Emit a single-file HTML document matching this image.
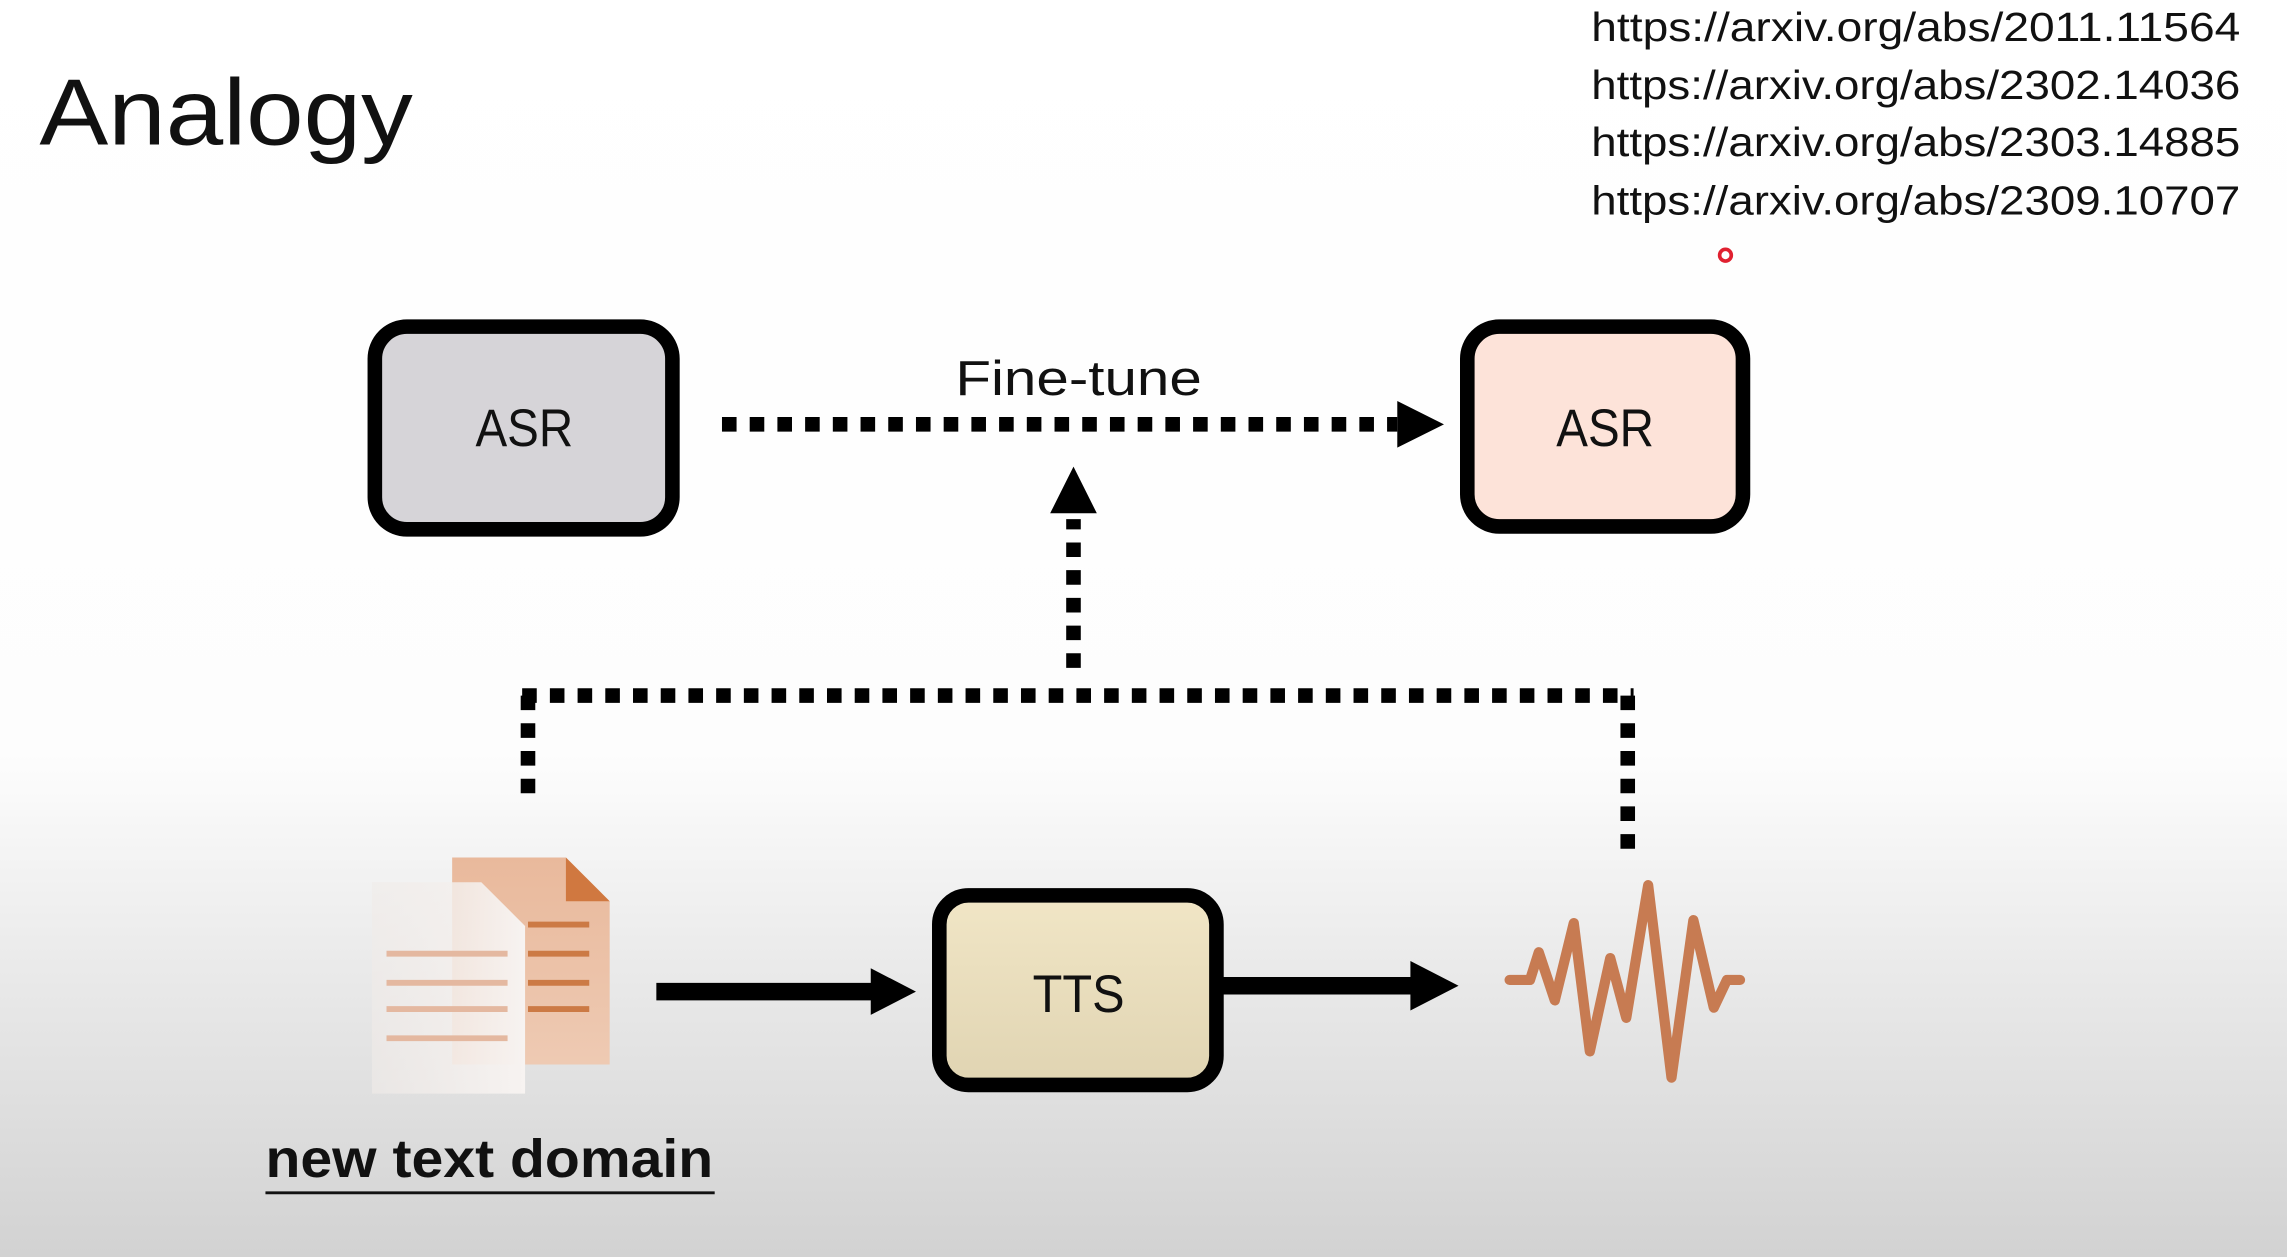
<!DOCTYPE html>
<html><head><meta charset="utf-8"><style>
html,body{margin:0;padding:0;width:2287px;height:1257px;overflow:hidden;background:#fff}
svg{display:block}
</style></head><body>
<svg width="2287" height="1257" viewBox="0 0 1568 862" preserveAspectRatio="none" xmlns="http://www.w3.org/2000/svg" font-family="Liberation Sans, DejaVu Sans, sans-serif">
<defs>
<linearGradient id="bg" x1="0" y1="0" x2="0" y2="1">
<stop offset="0" stop-color="#ffffff"/><stop offset="0.6" stop-color="#fdfdfd"/><stop offset="0.75" stop-color="#ececec"/><stop offset="1" stop-color="#d2d2d2"/>
</linearGradient>
<linearGradient id="tts" x1="0" y1="0" x2="0" y2="1"><stop offset="0" stop-color="#f1e6c6"/><stop offset="1" stop-color="#e0d4b2"/></linearGradient>
<linearGradient id="doc1" x1="0" y1="0" x2="0" y2="1"><stop offset="0" stop-color="#e9b99c"/><stop offset="1" stop-color="#eecab3"/></linearGradient>
<linearGradient id="doc2" x1="0" y1="0" x2="1" y2="0"><stop offset="0" stop-color="#f0ebe8" stop-opacity="0.6"/><stop offset="1" stop-color="#f7f3f1"/></linearGradient>
</defs>
<rect width="1568" height="862" fill="url(#bg)"/>
<text x="27" y="99" font-size="64" fill="#111" textLength="256" lengthAdjust="spacingAndGlyphs">Analogy</text>
<g font-size="28" fill="#111">
<text x="1091" y="28" textLength="445" lengthAdjust="spacingAndGlyphs">https://arxiv.org/abs/2011.11564</text>
<text x="1091" y="68" textLength="445" lengthAdjust="spacingAndGlyphs">https://arxiv.org/abs/2302.14036</text>
<text x="1091" y="107" textLength="445" lengthAdjust="spacingAndGlyphs">https://arxiv.org/abs/2303.14885</text>
<text x="1091" y="147" textLength="445" lengthAdjust="spacingAndGlyphs">https://arxiv.org/abs/2309.10707</text>
</g>
<circle cx="1183" cy="175" r="4" fill="none" stroke="#e02030" stroke-width="2.5"/>
<rect x="257" y="224" width="204" height="139" rx="22" fill="#d6d4d8" stroke="#000" stroke-width="10"/>
<text x="326" y="306" font-size="36" fill="#111" textLength="67" lengthAdjust="spacingAndGlyphs">ASR</text>
<rect x="1006" y="224" width="189" height="137" rx="22" fill="#fde3d9" stroke="#000" stroke-width="10"/>
<text x="1067" y="306" font-size="36" fill="#111" textLength="67" lengthAdjust="spacingAndGlyphs">ASR</text>
<text x="655" y="271" font-size="34" fill="#111" textLength="169" lengthAdjust="spacingAndGlyphs">Fine-tune</text>
<g stroke="#000" stroke-width="10" stroke-dasharray="10 9" fill="none">
<line x1="495" y1="291" x2="958" y2="291"/>
<line x1="736" y1="458" x2="736" y2="356"/>
<line x1="358" y1="477" x2="1120" y2="477"/>
<line x1="362" y1="477" x2="362" y2="553"/>
<line x1="1116" y1="477" x2="1116" y2="588"/>
</g>
<polygon points="958,275 990,291 958,307" fill="#000"/>
<polygon points="720,352 736,320 752,352" fill="#000"/>
<rect x="644" y="614" width="190" height="130" rx="20" fill="url(#tts)" stroke="#000" stroke-width="10"/>
<text x="708" y="694" font-size="36" fill="#111" textLength="63" lengthAdjust="spacingAndGlyphs">TTS</text>
<line x1="450" y1="680" x2="600" y2="680" stroke="#000" stroke-width="12"/>
<polygon points="597,664 628,680 597,696" fill="#000"/>
<line x1="836" y1="676" x2="970" y2="676" stroke="#000" stroke-width="12"/>
<polygon points="967,659 1000,676 967,693" fill="#000"/>
<polygon points="310,588 388,588 418,618 418,730 310,730" fill="url(#doc1)"/>
<polygon points="388,588 418,618 388,618" fill="#d07840"/>
<g stroke="#cc7a45" stroke-width="4"><line x1="362" y1="634" x2="404" y2="634"/><line x1="362" y1="654" x2="404" y2="654"/><line x1="362" y1="674" x2="404" y2="674"/><line x1="362" y1="692" x2="404" y2="692"/></g>
<polygon points="255,605 330,605 360,635 360,750 255,750" fill="url(#doc2)"/>
<g stroke="#e4b8a0" stroke-width="4"><line x1="265" y1="654" x2="348" y2="654"/><line x1="265" y1="674" x2="348" y2="674"/><line x1="265" y1="692" x2="348" y2="692"/><line x1="265" y1="712" x2="348" y2="712"/></g>
<polyline points="1035,672 1049,672 1055,653 1066,686 1079,633 1090,721 1104,657 1115,698 1130,607 1146,739 1161,631 1175,691 1184,672 1193,672" fill="none" stroke="#c77b52" stroke-width="7" stroke-linejoin="round" stroke-linecap="round"/>
<text x="182" y="807" font-size="37" font-weight="bold" fill="#111" textLength="307" lengthAdjust="spacingAndGlyphs">new text domain</text>
<line x1="182" y1="818" x2="490" y2="818" stroke="#111" stroke-width="2"/>
</svg>
</body></html>
